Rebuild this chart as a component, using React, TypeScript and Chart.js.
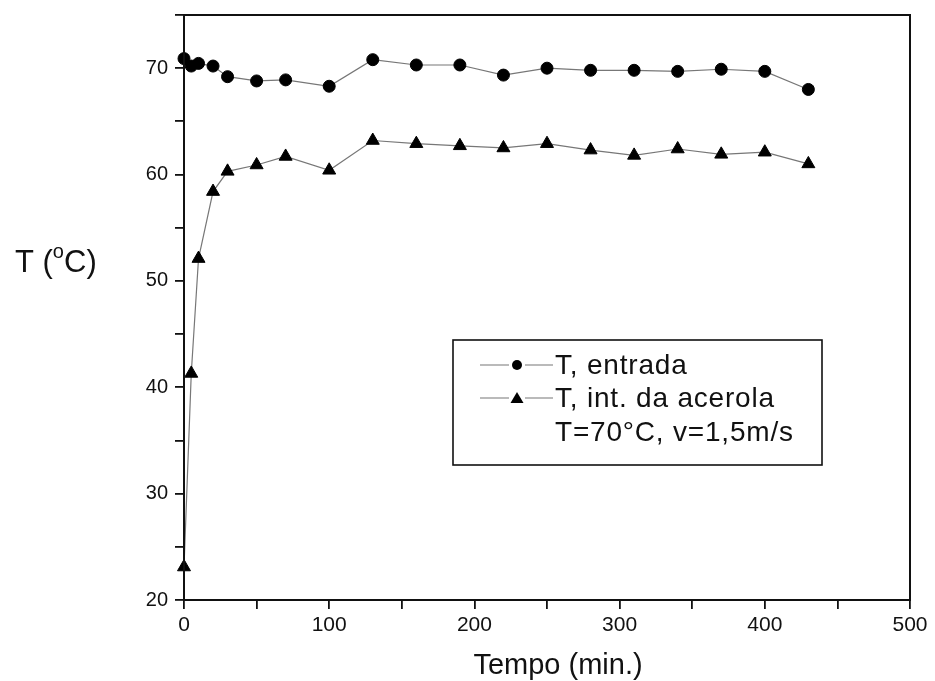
import React, { useEffect, useRef } from 'react';
import { Chart, registerables } from 'chart.js';

Chart.register(...registerables);

// Time (min.)
const timeMin = [0, 5, 10, 20, 30, 50, 70, 100, 130, 160, 190, 220, 250, 280, 310, 340, 370, 400, 430];
// T, entrada (°C)
const tEntrada = [70.9, 70.2, 70.45, 70.2, 69.2, 68.8, 68.9, 68.3, 70.8, 70.3, 70.3, 69.35, 70.0, 69.8, 69.8, 69.7, 69.9, 69.7, 68.0];
// T, int. da acerola (°C)
const tAcerola = [23.1, 41.3, 52.1, 58.4, 60.3, 60.9, 61.7, 60.4, 63.2, 62.9, 62.7, 62.5, 62.9, 62.3, 61.8, 62.4, 61.9, 62.1, 61.0];

const seriesLabels = ['T, entrada', 'T, int. da acerola'];
const legendNote = 'T=70°C, v=1,5m/s';
const xTitle = 'Tempo (min.)';
const yTitleParts = ['T (', 'o', 'C)'];

const FONT = "'Liberation Sans', Arial, sans-serif";
const INK = '#111';
const LINE = '#777';

const framePlugin = {
  id: 'framePlugin',
  afterDraw(chart: any) {
    const { ctx, chartArea: ca } = chart;
    ctx.save();
    // frame
    ctx.strokeStyle = INK;
    ctx.lineWidth = 2;
    ctx.strokeRect(ca.left, ca.top, ca.right - ca.left, ca.bottom - ca.top);

    // x title
    ctx.fillStyle = INK;
    ctx.font = `29px ${FONT}`;
    ctx.textAlign = 'center';
    ctx.textBaseline = 'alphabetic';
    ctx.fillText(xTitle, 558, 674);

    // y title (horizontal)
    ctx.textAlign = 'left';
    let x = 15;
    const yb = 272;
    ctx.font = `31px ${FONT}`;
    ctx.fillText(yTitleParts[0], x, yb);
    x += ctx.measureText(yTitleParts[0]).width;
    ctx.font = `20px ${FONT}`;
    ctx.fillText(yTitleParts[1], x, yb - 14);
    x += ctx.measureText(yTitleParts[1]).width;
    ctx.font = `31px ${FONT}`;
    ctx.fillText(yTitleParts[2], x, yb);

    // legend box
    const bx = 453, by = 340, bw = 369, bh = 125;
    ctx.lineWidth = 1.6;
    ctx.strokeStyle = INK;
    ctx.strokeRect(bx, by, bw, bh);

    const rows = [365, 398, 432];
    const textX = 555;
    ctx.font = `28px ${FONT}`;
    try { (ctx as any).letterSpacing = '0.8px'; } catch (e) { /* ignore */ }
    ctx.textBaseline = 'middle';
    for (let i = 0; i < 2; i++) {
      const ry = rows[i];
      ctx.strokeStyle = LINE;
      ctx.lineWidth = 1.2;
      ctx.beginPath();
      ctx.moveTo(480, ry);
      ctx.lineTo(509, ry);
      ctx.moveTo(525, ry);
      ctx.lineTo(553, ry);
      ctx.stroke();
      ctx.fillStyle = '#000';
      ctx.beginPath();
      if (i === 0) {
        ctx.arc(517, ry, 5, 0, Math.PI * 2);
      } else {
        ctx.moveTo(517, ry - 6);
        ctx.lineTo(523.5, ry + 5);
        ctx.lineTo(510.5, ry + 5);
        ctx.closePath();
      }
      ctx.fill();
      ctx.fillStyle = INK;
      ctx.fillText(seriesLabels[i], textX, ry + 1);
    }
    ctx.fillText(legendNote, textX, rows[2] + 1);
    ctx.restore();
  },
};

export default function App() {
  const canvasRef = useRef<HTMLCanvasElement | null>(null);

  useEffect(() => {
    if (!canvasRef.current) return;
    const chart = new Chart(canvasRef.current, {
      type: 'line',
      data: {
        datasets: [
          {
            label: seriesLabels[0],
            data: timeMin.map((t, i) => ({ x: t, y: tEntrada[i] })),
            borderColor: LINE,
            borderWidth: 1.2,
            pointStyle: 'circle',
            pointRadius: 6,
            pointBackgroundColor: '#000',
            pointBorderColor: '#000',
            pointBorderWidth: 1,
            clip: false as any,
          },
          {
            label: seriesLabels[1],
            data: timeMin.map((t, i) => ({ x: t, y: tAcerola[i] })),
            borderColor: LINE,
            borderWidth: 1.2,
            pointStyle: 'triangle',
            pointRadius: 7.5,
            pointBackgroundColor: '#000',
            pointBorderColor: '#000',
            pointBorderWidth: 1,
            clip: false as any,
          },
        ],
      },
      options: {
        animation: false,
        responsive: true,
        maintainAspectRatio: false,
        layout: { padding: { left: 110, right: 25, top: 15, bottom: 0 } },
        plugins: {
          legend: { display: false },
          tooltip: { enabled: false },
        },
        scales: {
          x: {
            type: 'linear',
            min: 0,
            max: 500,
            afterFit: (scale: any) => {
              scale.height = 81;
              scale.paddingLeft = 0;
              scale.paddingRight = 0;
            },
            ticks: {
              stepSize: 50,
              autoSkip: false,
              maxRotation: 0,
              padding: 4,
              color: INK,
              font: { family: FONT, size: 21 },
              callback: (v: any) => (Number(v) % 100 === 0 ? String(v) : ''),
            },
            grid: {
              display: true,
              drawOnChartArea: false,
              drawTicks: true,
              tickLength: 9,
              color: INK,
              lineWidth: 1.8,
            },
            border: { display: true, color: INK, width: 2 },
          },
          y: {
            type: 'linear',
            min: 20,
            max: 75,
            afterFit: (scale: any) => {
              scale.width = 74;
              scale.paddingTop = 0;
              scale.paddingBottom = 0;
            },
            ticks: {
              stepSize: 5,
              autoSkip: false,
              padding: 7,
              color: INK,
              font: { family: FONT, size: 20 },
              callback: (v: any) => (Number(v) % 10 === 0 ? String(v) : ''),
            },
            grid: {
              display: true,
              drawOnChartArea: false,
              drawTicks: true,
              tickLength: 9,
              color: INK,
              lineWidth: 1.8,
            },
            border: { display: true, color: INK, width: 2 },
          },
        },
      },
      plugins: [framePlugin],
    });
    return () => chart.destroy();
  }, []);

  return (
    <div style={{ position: 'fixed', left: 0, top: 0, width: 935, height: 681, background: '#fff' }}>
      <canvas ref={canvasRef} />
    </div>
  );
}
